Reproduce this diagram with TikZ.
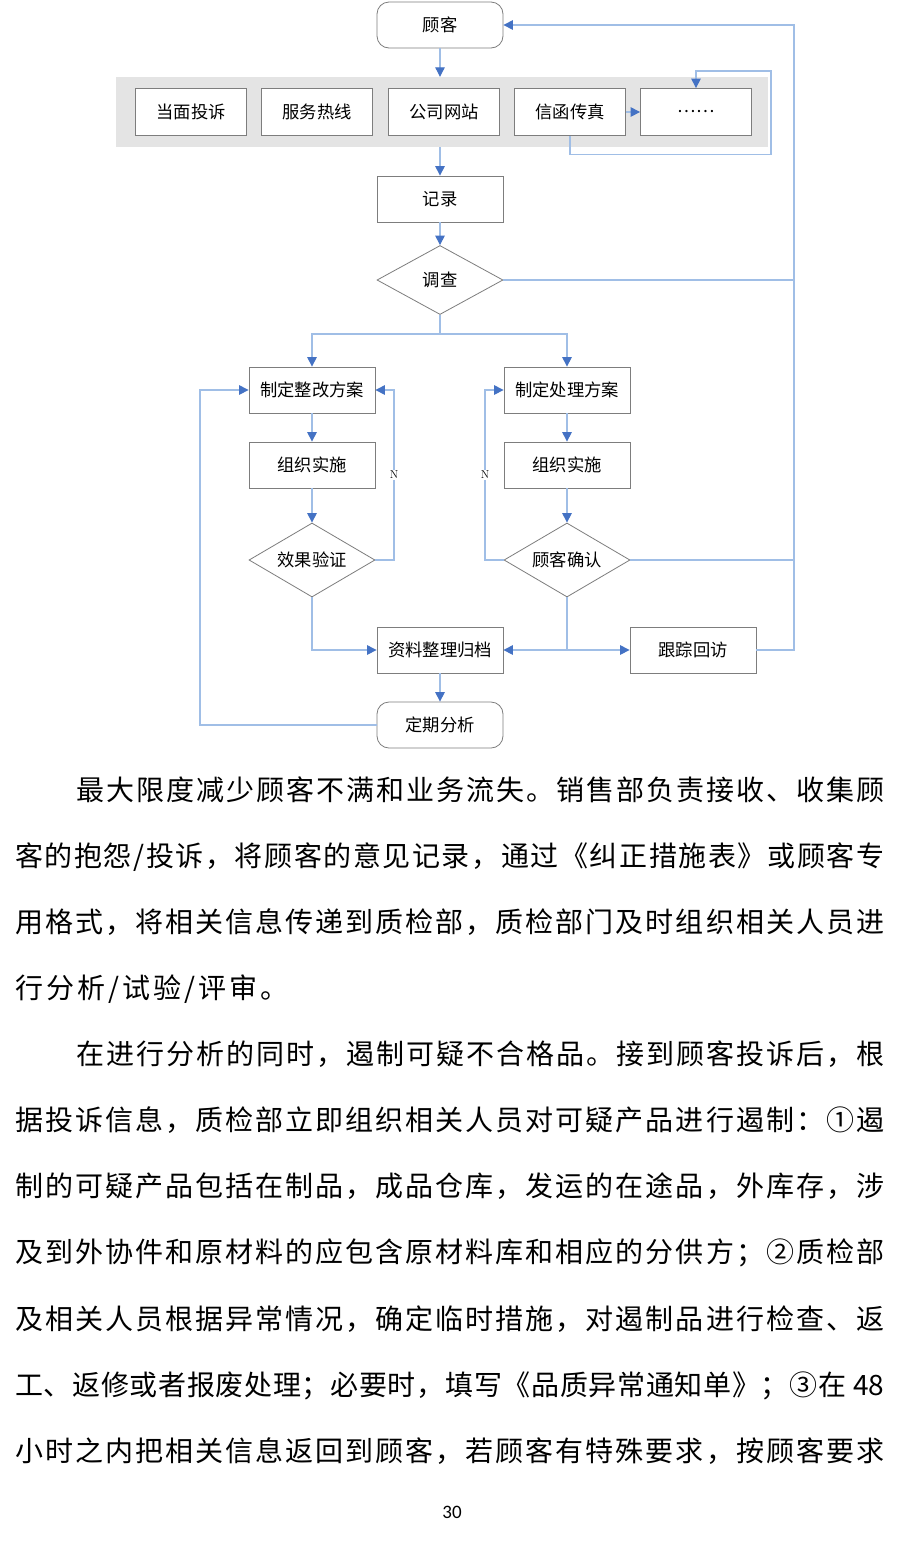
\documentclass[tikz,border=0pt]{standalone}
\usepackage{fontspec}
\newfontfamily\cjk{Noto Sans CJK SC}
\newfontfamily\pnum{Carlito}
\usetikzlibrary{arrows.meta,shapes.geometric}
\definecolor{lineblue}{RGB}{160,190,230}
\definecolor{tipblue}{RGB}{68,114,196}
\definecolor{boxgray}{RGB}{125,125,125}
\definecolor{bargray}{RGB}{228,228,228}
\makeatletter
\def\jstStop{\jstStop}
\def\jst@stop{\jstStop}
\let\jsep\hfil
\newcommand\jline[2]{\hbox to #1{\jstA#2\jstStop}}
\newcommand\nline[1]{\hbox{\def\jsep{\kern3pt}\jstA#1\jstStop}}
\def\jstA#1{#1\jstB}
\def\jstB#1{\def\jst@tmp{#1}\ifx\jst@tmp\jst@stop\else\jsep#1\expandafter\jstB\fi}
\makeatother
\begin{document}
\begin{tikzpicture}[x=1pt,y=-1pt,
  conn/.style={draw=lineblue,line width=1.1pt},
  arr/.style={conn,-{Triangle[length=9.5pt,width=9.5pt,color=tipblue]}},
  box/.style={draw=boxgray,line width=0.8pt,fill=white,minimum width=126pt,minimum height=46pt,inner sep=0pt,font=\cjk\fontsize{17.3}{17.3}\selectfont},
  chan/.style={box,minimum width=111pt,minimum height=47pt},
  term/.style={box,rounded corners=12pt},
  dec/.style={box,diamond,aspect=1.8},
  nlab/.style={fill=white,inner sep=1.5pt,font=\fontsize{11.5}{11.5}\selectfont},
  body/.style={anchor=base west,inner sep=0pt,font=\cjk\fontsize{28}{28}\selectfont}]
\fill[white] (0,0) rectangle (900,1551);
\useasboundingbox (0,0) rectangle (900,1551);
% channel bar
\node[fill=bargray,minimum width=652pt,minimum height=70pt,inner sep=0pt] (bar) at (442,112) {};
\node[term] (gk) at (440,25) {顾客};
\node[chan] (b1) at (191,112) {当面投诉};
\node[chan] (b2) at (317,112) {服务热线};
\node[chan] (b3) at (444,112) {公司网站};
\node[chan] (b4) at (570,112) {信函传真};
\node[chan] (b5) at (696,112) {\ldots\ldots};
\node[box] (jl) at (440,199) {记录};
\node[dec,minimum height=69pt] (dc) at (440,280) {调查};
\node[box] (zg) at (312,390) {制定整改方案};
\node[box] (zs1) at (312,465) {组织实施};
\node[dec,minimum height=74pt] (xg) at (312,560) {效果验证};
\node[box] (cl) at (567,390) {制定处理方案};
\node[box] (zs2) at (567,465) {组织实施};
\node[dec,minimum height=74pt] (qr) at (567,560) {顾客确认};
\node[box] (zl) at (440,650) {资料整理归档};
\node[box] (gz) at (693,650) {跟踪回访};
\node[term] (dq) at (440,725) {定期分析};
\coordinate (rt) at (794,25);
\coordinate (br) at (440,334);
\coordinate (jn) at (567,650);
% connectors
\draw[arr] (gk.south) -- (gk.south |- bar.north);
\draw[arr] (jl.north |- bar.south) -- (jl.north);
\draw[arr] (b4.east) -- (b5.west);
\draw[arr] (b4.south) -- ++(0,18.5) -| (771,71) -| (b5.north);
\draw[arr] (jl.south) -- (dc.north);
\draw[conn] (dc.south) -- (br);
\draw[arr] (br) -| (zg.north);
\draw[arr] (br) -| (cl.north);
\draw[arr] (zg.south) -- (zs1.north);
\draw[arr] (zs1.south) -- (xg.north);
\draw[arr] (cl.south) -- (zs2.north);
\draw[arr] (zs2.south) -- (qr.north);
\draw[arr] (xg.east) -- (394,560) |- (zg.east) node[pos=0.25,nlab] {N};
\draw[arr] (qr.west) -- (485,560) |- (cl.west) node[pos=0.25,nlab] {N};
\draw[arr] (xg.south) |- (zl.west);
\draw[conn] (qr.south) -- (jn);
\draw[arr] (jn) -- (zl.east);
\draw[arr] (jn) -- (gz.west);
\draw[arr] (zl.south) -- (dq.north);
\draw[arr] (dq.west) -| (200,390) -- (zg.west);
\draw[arr] (gz.east) -| (rt) -- (gk.east);
\draw[conn] (dc.east) -- (dc.east -| rt);
\draw[conn] (qr.east) -- (qr.east -| rt);
% body text
\node[body] (t1) at (76,800.5) {\jline{808pt}{最大限度减少顾客不满和业务流失。销售部负责接收、收集顾}};
\node[body] (t2) at (15,866.5) {\jline{869pt}{客的抱怨/投诉，将顾客的意见记录，通过《纠正措施表》或顾客专}};
\node[body] (t3) at (15,932.5) {\jline{869pt}{用格式，将相关信息传递到质检部，质检部门及时组织相关人员进}};
\node[body] (t4) at (15,998.5) {\nline{行分析/试验/评审。}};
\node[body] (t5) at (76,1064.5) {\jline{808pt}{在进行分析的同时，遏制可疑不合格品。接到顾客投诉后，根}};
\node[body] (t6) at (15,1130.5) {\jline{869pt}{据投诉信息，质检部立即组织相关人员对可疑产品进行遏制：①遏}};
\node[body] (t7) at (15,1196.5) {\jline{869pt}{制的可疑产品包括在制品，成品仓库，发运的在途品，外库存，涉}};
\node[body] (t8) at (15,1262.5) {\jline{869pt}{及到外协件和原材料的应包含原材料库和相应的分供方；②质检部}};
\node[body] (t9) at (15,1329.5) {\jline{869pt}{及相关人员根据异常情况，确定临时措施，对遏制品进行检查、返}};
\node[body] (t10) at (15,1395.5) {\jline{869pt}{工、返修或者报废处理；必要时，填写《品质异常通知单》；③在{\ 48}}};
\node[body] (t11) at (15,1461.5) {\jline{869pt}{小时之内把相关信息返回到顾客，若顾客有特殊要求，按顾客要求}};
\node[inner sep=0pt,font=\pnum\fontsize{19}{19}\selectfont] (pg) at (452,1512) {30};
\end{tikzpicture}
\end{document}
